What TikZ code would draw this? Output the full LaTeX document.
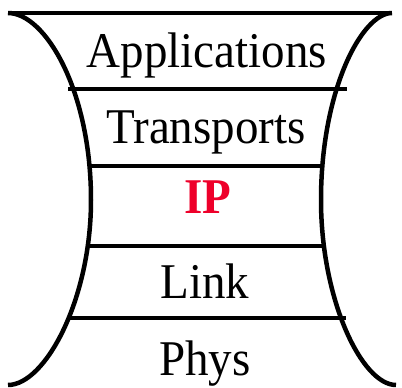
\documentclass[tikz,border=0pt]{standalone}
\usepackage{fontspec}
\setmainfont[FakeStretch=0.94]{Liberation Serif}
\usepackage{tikz}
\definecolor{ipred}{RGB}{238,0,42}

\begin{document}
\begin{tikzpicture}[
        x=1pt, y=-1pt,
        layer/.style={anchor=base, inner sep=0pt, font=\fontsize{50}{54}\selectfont},
        bar/.style={line width=4pt},
        side/.style={line width=4.5pt}
    ]
        \useasboundingbox (0,0) rectangle (402,388);

        % Top and bottom edges
        \draw[bar] (8,13) -- (392,13);
        \draw[bar] (8,389.5) -- (396,389.5);

        % Curved sides of the stack
        \draw[side] (8,13) .. controls (45,13) and (91,90) .. (91,200)
                           .. controls (91,300) and (45,385) .. (8,385);
        \draw[side] (392,13) .. controls (362,13) and (321,90) .. (321,200)
                             .. controls (321,300) and (362,385) .. (396,385);

        % Layer separators
        \draw[bar] (68,89) -- (347,89);
        \draw[bar] (88,166) -- (322,166);
        \draw[bar] (88,246) -- (323,246);
        \draw[bar] (68,318) -- (346,318);

        % Layer names
        \node[layer] (app) at (207,67) {Applications};
        \node[layer] (trp) at (206,143) {Transports};
        \node[layer, text=ipred, font=\fontsize{50}{54}\selectfont\bfseries] (ip) at (208,213) {IP};
        \node[layer] (lnk) at (205,298) {Link};
        \node[layer] (phy) at (205,375) {Phys};

    \end{tikzpicture}
\end{document}
